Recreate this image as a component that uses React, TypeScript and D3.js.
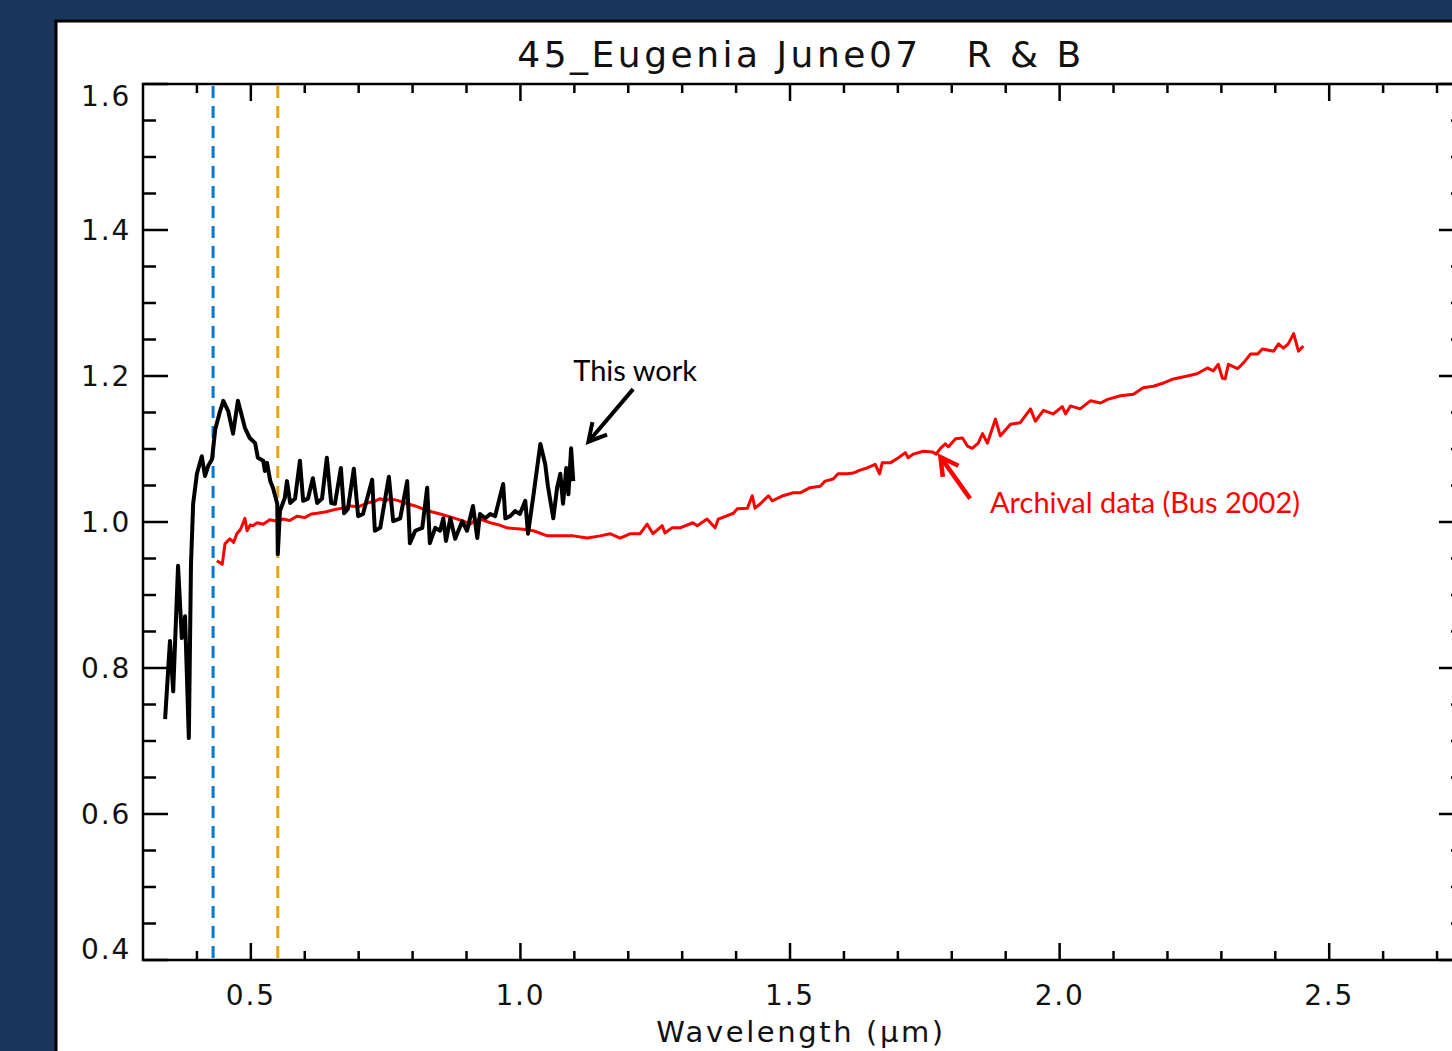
import React, { useEffect } from 'react';
import * as d3 from 'd3';

// black spectrum ("This work") - wavelength (um) / reflectance
const blackWl = [0.341, 0.350, 0.356, 0.365, 0.372, 0.378, 0.385, 0.389, 0.393, 0.400, 0.409, 0.415, 0.421, 0.428, 0.434, 0.443, 0.449, 0.458, 0.467, 0.476, 0.489, 0.498, 0.508, 0.513, 0.523, 0.526, 0.530, 0.536, 0.541, 0.549, 0.550, 0.554, 0.563, 0.567, 0.573, 0.582, 0.591, 0.597, 0.606, 0.615, 0.623, 0.632, 0.641, 0.649, 0.656, 0.667, 0.673, 0.680, 0.691, 0.699, 0.708, 0.725, 0.730, 0.740, 0.756, 0.764, 0.777, 0.790, 0.795, 0.805, 0.818, 0.827, 0.832, 0.842, 0.851, 0.857, 0.862, 0.870, 0.879, 0.892, 0.901, 0.912, 0.920, 0.925, 0.935, 0.944, 0.953, 0.968, 0.972, 0.981, 0.990, 0.999, 1.009, 1.014, 1.024, 1.037, 1.046, 1.051, 1.061, 1.068, 1.074, 1.079, 1.085, 1.089, 1.094, 1.098];
const blackRefl = [0.730, 0.837, 0.768, 0.940, 0.841, 0.871, 0.704, 0.942, 1.025, 1.066, 1.090, 1.063, 1.077, 1.086, 1.127, 1.152, 1.166, 1.152, 1.121, 1.166, 1.129, 1.115, 1.108, 1.088, 1.084, 1.070, 1.081, 1.056, 1.047, 1.025, 0.956, 1.015, 1.033, 1.056, 1.026, 1.032, 1.084, 1.029, 1.032, 1.060, 1.026, 1.032, 1.088, 1.026, 1.025, 1.074, 1.012, 1.018, 1.073, 1.008, 1.011, 1.058, 0.988, 0.992, 1.062, 1.001, 1.005, 1.056, 0.971, 0.988, 0.992, 1.047, 0.971, 0.992, 0.988, 1.005, 0.974, 1.005, 0.977, 1.001, 0.988, 1.022, 0.978, 1.011, 1.005, 1.011, 1.008, 1.052, 1.005, 1.008, 1.015, 1.011, 1.029, 0.984, 1.036, 1.107, 1.079, 1.049, 1.005, 1.047, 1.066, 1.025, 1.074, 1.038, 1.101, 1.056];

// red spectrum (Bus 2002)
const redWl = [0.437, 0.447, 0.452, 0.461, 0.468, 0.474, 0.481, 0.489, 0.493, 0.499, 0.504, 0.512, 0.523, 0.535, 0.549, 0.560, 0.572, 0.586, 0.600, 0.612, 0.623, 0.640, 0.655, 0.671, 0.684, 0.700, 0.716, 0.728, 0.740, 0.750, 0.758, 0.770, 0.790, 0.805, 0.819, 0.835, 0.851, 0.865, 0.883, 0.895, 0.907, 0.915, 0.925, 0.944, 0.960, 0.975, 1.005, 1.024, 1.050, 1.074, 1.098, 1.124, 1.148, 1.166, 1.185, 1.204, 1.222, 1.235, 1.246, 1.263, 1.268, 1.281, 1.296, 1.320, 1.328, 1.346, 1.361, 1.367, 1.395, 1.402, 1.421, 1.430, 1.435, 1.445, 1.460, 1.467, 1.487, 1.506, 1.519, 1.537, 1.556, 1.565, 1.580, 1.589, 1.606, 1.617, 1.630, 1.643, 1.658, 1.666, 1.671, 1.686, 1.701, 1.714, 1.719, 1.729, 1.747, 1.764, 1.771, 1.779, 1.788, 1.794, 1.807, 1.820, 1.829, 1.838, 1.849, 1.857, 1.866, 1.881, 1.890, 1.909, 1.927, 1.946, 1.955, 1.970, 1.988, 2.005, 2.011, 2.020, 2.038, 2.057, 2.076, 2.089, 2.113, 2.137, 2.155, 2.174, 2.191, 2.211, 2.237, 2.255, 2.274, 2.285, 2.294, 2.302, 2.307, 2.313, 2.330, 2.341, 2.354, 2.367, 2.376, 2.397, 2.406, 2.415, 2.424, 2.434, 2.443, 2.452];
const redRefl = [0.947, 0.942, 0.970, 0.977, 0.972, 0.984, 0.990, 1.005, 0.988, 0.996, 0.995, 0.999, 0.997, 1.003, 1.001, 1.004, 1.002, 1.008, 1.006, 1.011, 1.012, 1.014, 1.017, 1.019, 1.022, 1.021, 1.026, 1.028, 1.032, 1.029, 1.032, 1.030, 1.025, 1.022, 1.018, 1.014, 1.011, 1.008, 1.004, 1.001, 0.997, 1.002, 1.004, 0.999, 0.996, 0.992, 0.990, 0.988, 0.981, 0.981, 0.981, 0.978, 0.981, 0.984, 0.978, 0.984, 0.984, 0.997, 0.984, 0.995, 0.985, 0.992, 0.992, 0.999, 0.995, 1.004, 0.992, 1.004, 1.012, 1.018, 1.019, 1.036, 1.019, 1.025, 1.036, 1.029, 1.036, 1.040, 1.040, 1.047, 1.049, 1.056, 1.059, 1.066, 1.066, 1.067, 1.071, 1.074, 1.079, 1.066, 1.081, 1.081, 1.088, 1.095, 1.088, 1.093, 1.097, 1.096, 1.093, 1.101, 1.107, 1.103, 1.114, 1.115, 1.104, 1.101, 1.108, 1.121, 1.108, 1.141, 1.118, 1.134, 1.136, 1.155, 1.138, 1.153, 1.148, 1.158, 1.148, 1.159, 1.155, 1.166, 1.163, 1.168, 1.173, 1.175, 1.184, 1.186, 1.190, 1.196, 1.200, 1.203, 1.211, 1.207, 1.216, 1.197, 1.196, 1.216, 1.210, 1.218, 1.230, 1.230, 1.237, 1.234, 1.244, 1.238, 1.244, 1.258, 1.234, 1.241];

const yTickLabels = ['0.4', '0.6', '0.8', '1.0', '1.2', '1.4', '1.6'];
const xTickLabels = ['0.5', '1.0', '1.5', '2.0', '2.5'];
const markerLines = [0.43, 0.55]; // blue, orange dashed

const W = 1452;
const H = 1051;
const margin = { left: 143, top: 84, right: 1464, bottom: 960 };
const axisFont = "'DejaVu Sans', sans-serif";
const noteFont = "Lato, 'Open Sans', sans-serif";

const App = () => {
  useEffect(() => {
    document.body.style.margin = '0';
    document.body.style.overflow = 'hidden';
  }, []);

  const x = d3.scaleLinear().domain([0.3, 2.75]).range([margin.left, margin.right]);
  const y = d3.scaleLinear().domain([0.4, 1.6]).range([margin.bottom, margin.top]);

  const line = d3.line<[number, number]>().x(d => x(d[0])).y(d => y(d[1]));
  const blackPath = line(blackWl.map((w, i) => [w, blackRefl[i]]) as [number, number][]);
  const redPath = line(redWl.map((w, i) => [w, redRefl[i]]) as [number, number][]);

  const xMinor = d3.range(0.4, 2.75, 0.1).filter(v => Math.abs(v * 2 - Math.round(v * 2)) > 0.01);
  const xMajor = xTickLabels.map(Number);
  const yMajor = yTickLabels.map(Number);
  const yMinor = d3.range(0.45, 1.6, 0.05).filter(v => Math.abs(v * 5 - Math.round(v * 5)) > 0.01);

  const majY = 25, minY = 13, majX = 17, minX = 9;

  const arrowHead = (x1: number, y1: number, x2: number, y2: number, len: number) => {
    const a = Math.atan2(y2 - y1, x2 - x1);
    const s = 0.5;
    return `M${x2 - len * Math.cos(a - s)},${y2 - len * Math.sin(a - s)} L${x2},${y2} L${x2 - len * Math.cos(a + s)},${y2 - len * Math.sin(a + s)}`;
  };

  const bArrow = [x(1.209), y(1.182), x(1.126), y(1.110)];
  const rArrow = [x(1.834), y(1.032), x(1.779), y(1.089)];

  return (
    <svg width={W} height={H} style={{ position: 'absolute', left: 0, top: 0, display: 'block' }}>
      <rect x={0} y={0} width={W} height={H} fill="#1a365d" />
      <rect x={56} y={21} width={W} height={H} fill="#fff" stroke="#000" strokeWidth={3} />

      {/* title */}
      <text x={801} y={67} textAnchor="middle" fontFamily={axisFont} fontSize={36} letterSpacing={3.5} fill="#111">
        {'45_Eugenia June07\u00a0\u00a0\u00a0R & B'}
      </text>

      {/* dashed marker lines */}
      {markerLines.map((m, i) => (
        <line key={m} x1={x(m)} x2={x(m)} y1={margin.top + 2} y2={margin.bottom}
          stroke={i === 0 ? '#0a78d0' : '#e5a713'} strokeWidth={3} strokeDasharray="12,8" />
      ))}

      {/* axes box */}
      <g stroke="#000" strokeWidth={2.5} fill="none">
        <path d={`M${margin.right},${margin.top} H${margin.left} V${margin.bottom} H${margin.right}`} />
        <line x1={margin.right} x2={margin.right} y1={margin.top} y2={margin.bottom} />
        {xMajor.map(v => (
          <g key={'xM' + v}>
            <line x1={x(v)} x2={x(v)} y1={margin.bottom} y2={margin.bottom - majX} />
            <line x1={x(v)} x2={x(v)} y1={margin.top} y2={margin.top + majX} />
          </g>
        ))}
        {xMinor.map(v => (
          <g key={'xm' + v}>
            <line x1={x(v)} x2={x(v)} y1={margin.bottom} y2={margin.bottom - minX} />
            <line x1={x(v)} x2={x(v)} y1={margin.top} y2={margin.top + minX} />
          </g>
        ))}
        {yMajor.map(v => (
          <g key={'yM' + v}>
            <line x1={margin.left} x2={margin.left + majY} y1={y(v)} y2={y(v)} />
            <line x1={margin.right} x2={margin.right - majY} y1={y(v)} y2={y(v)} />
          </g>
        ))}
        {yMinor.map(v => (
          <g key={'ym' + v}>
            <line x1={margin.left} x2={margin.left + minY} y1={y(v)} y2={y(v)} />
            <line x1={margin.right} x2={margin.right - minY} y1={y(v)} y2={y(v)} />
          </g>
        ))}
      </g>

      {/* tick labels */}
      <g fontFamily={axisFont} fontSize={28} letterSpacing={1.8} fill="#111">
        {yTickLabels.map(t => {
          const ty = Math.min(Math.max(y(+t), margin.top + 12), margin.bottom - 11);
          return (
            <text key={t} x={131} y={ty} dy="0.36em" textAnchor="end">{t}</text>
          );
        })}
        {xTickLabels.map(t => (
          <text key={t} x={x(+t)} y={1005} textAnchor="middle">{t}</text>
        ))}
      </g>
      <text x={801} y={1042} textAnchor="middle" fontFamily={axisFont} fontSize={29} letterSpacing={2.6} fill="#111">
        Wavelength (μm)
      </text>

      {/* spectra */}
      <path d={redPath ?? ''} fill="none" stroke="#ff0000" strokeWidth={3} strokeLinejoin="round" />
      <path d={blackPath ?? ''} fill="none" stroke="#000" strokeWidth={4} strokeLinejoin="round" />

      {/* annotations */}
      <text x={x(1.098)} y={y(1.193)} fontFamily={noteFont} fontSize={29} fill="#000">This work</text>
      <line x1={bArrow[0]} y1={bArrow[1]} x2={bArrow[2]} y2={bArrow[3]} stroke="#000" strokeWidth={4} />
      <path d={arrowHead(bArrow[0], bArrow[1], bArrow[2], bArrow[3], 20)} fill="none" stroke="#000" strokeWidth={4} />

      <text x={x(1.871)} y={y(1.013)} fontFamily={noteFont} fontSize={29} fill="#ff0000">Archival data (Bus 2002)</text>
      <line x1={rArrow[0]} y1={rArrow[1]} x2={rArrow[2]} y2={rArrow[3]} stroke="#ff0000" strokeWidth={4.5} />
      <path d={arrowHead(rArrow[0], rArrow[1], rArrow[2], rArrow[3], 20)} fill="none" stroke="#ff0000" strokeWidth={4.5} />
    </svg>
  );
};

export default App;
